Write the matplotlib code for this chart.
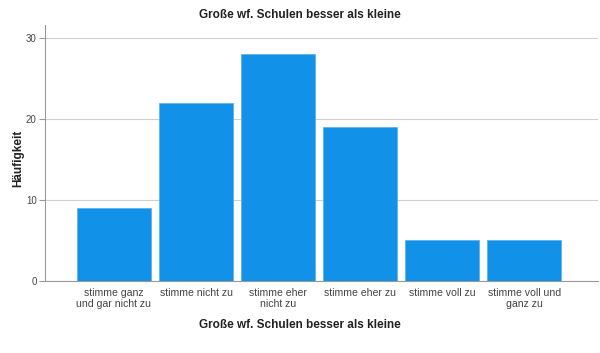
import matplotlib
matplotlib.use("Agg")
import matplotlib.pyplot as plt

categories = [
    "stimme ganz\nund gar nicht zu",
    "stimme nicht zu",
    "stimme eher\nnicht zu",
    "stimme eher zu",
    "stimme voll zu",
    "stimme voll und\nganz zu",
]
counts = [9, 22, 28, 19, 5, 5]
y_ticks = [0, 10, 20, 30]

plt.rcParams["font.family"] = ["Liberation Sans", "DejaVu Sans"]

fig = plt.figure(figsize=(6.0, 3.53), dpi=100)
ax = fig.add_axes([0.075, 0.204, 0.922, 0.725])

x = list(range(len(categories)))
ax.bar(x, counts, width=0.9, color="#1192e8", edgecolor="#5eb3ee",
       linewidth=0.6, zorder=3)

ax.set_xlim(-0.84, 5.9)
ax.set_ylim(0, 31.6)
ax.set_yticks(y_ticks)
ax.set_yticklabels([str(v) for v in y_ticks])
ax.set_xticks(x)
ax.set_xticklabels(categories, fontsize=7.6, color="#444444", linespacing=1.1)
ax.tick_params(axis="x", length=0, pad=5)
ax.tick_params(axis="y", length=4, width=0.8, color="#999999",
               labelsize=7, labelcolor="#444444", pad=2)
ax.yaxis.grid(True, color="#d0d0d0", linewidth=0.8, zorder=0)

for side in ["top", "right"]:
    ax.spines[side].set_visible(False)
for side in ["left", "bottom"]:
    ax.spines[side].set_color("#999999")
    ax.spines[side].set_linewidth(0.8)

fig.text(18 / 600, 0.55, "Häufigkeit", rotation=90, ha="center",
         va="center", fontsize=8.5, fontweight="bold", color="#222222")
fig.text(0.5, 1 - 325 / 353, "Große wf. Schulen besser als kleine",
         ha="center", va="center", fontsize=8.5, fontweight="bold",
         color="#222222")
fig.text(0.5, 1 - 15 / 353, "Große wf. Schulen besser als kleine",
         ha="center", va="center", fontsize=8.5, fontweight="bold",
         color="#222222")

fig.savefig("out.png", dpi=100)
